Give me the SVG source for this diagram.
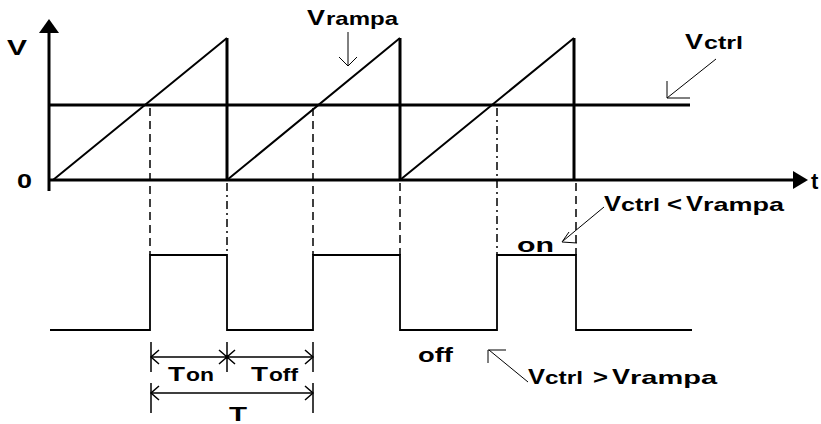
<svg xmlns="http://www.w3.org/2000/svg" width="821" height="424" viewBox="0 0 821 424">
<style>
.ax{stroke:#000;stroke-width:3;fill:none}
.rp{stroke:#000;stroke-width:2;fill:none}
.th{stroke:#000;stroke-width:3;fill:none}
.pl{stroke:#000;stroke-width:1.8;fill:none}
.ds{stroke:#000;stroke-width:1.5;fill:none;stroke-dasharray:8,5}
.dd{stroke:#000;stroke-width:1.5;fill:none;stroke-dasharray:8,4,2,4}
.ld{stroke:#000;stroke-width:1;fill:none}
.dm{stroke:#000;stroke-width:1.5;fill:none}
text{font-family:"Liberation Sans",Arial,sans-serif;font-weight:bold;fill:#000}
.big{font-size:22px}
.sub{font-size:19px}
.lbl{font-size:21px}
</style>
<rect width="821" height="424" fill="#fff"/>
<g id="axes">
<line class="ax" x1="49" y1="30" x2="49" y2="191"/>
<polygon points="49,19 39,33 59,33" fill="#000"/>
<line class="ax" x1="49" y1="180" x2="795" y2="180"/>
<polygon points="808,180 793,171 793,189" fill="#000"/>
<text class="big" x="7" y="55" font-size="24" textLength="20" lengthAdjust="spacingAndGlyphs">V</text>
<text class="lbl" x="17" y="188" font-size="22" textLength="15" lengthAdjust="spacingAndGlyphs">0</text>
<text class="big" x="811" y="189" font-size="24">t</text>
</g>
<g id="vctrl-line">
<line class="th" x1="49" y1="105" x2="690" y2="105"/>
</g>
<g id="ramp">
<path class="rp" d="M53,180 L227,38 M227,180 L400,38 M400,180 L574,38"/>
<path class="th" d="M227,38 V180 M400,38 V180 M574,38 V180"/>
</g>
<g id="pulse">
<path class="pl" d="M50,330 H150 V255 H227 V330 H313 V255 H400 V330 H497 V255 H576 V330 H692"/>
</g>
<g id="guides">
<line class="ds" x1="150" y1="108" x2="150" y2="255"/>
<line class="dd" x1="227" y1="183" x2="227" y2="255"/>
<line class="ds" x1="313" y1="108" x2="313" y2="255"/>
<line class="ds" x1="400" y1="183" x2="400" y2="255"/>
<line class="dd" x1="497" y1="108" x2="497" y2="255"/>
<line class="ds" x1="576" y1="183" x2="576" y2="255"/>
</g>
<g id="label-vrampa">
<text y="25"><tspan class="big" x="307" textLength="18" lengthAdjust="spacingAndGlyphs">V</tspan><tspan class="sub" x="326" textLength="72" lengthAdjust="spacingAndGlyphs">rampa</tspan></text>
<path class="ld" d="M348,32 V65 M339,57 L348,66 L357,57"/>
</g>
<g id="label-vctrl">
<text y="49"><tspan class="big" x="685" textLength="18" lengthAdjust="spacingAndGlyphs">V</tspan><tspan class="sub" x="704" textLength="39" lengthAdjust="spacingAndGlyphs">ctrl</tspan></text>
<path class="ld" d="M716,59 L667,98 M667,81 V98 H690"/>
</g>
<g id="label-on">
<text y="211"><tspan class="big" x="604" textLength="17" lengthAdjust="spacingAndGlyphs">V</tspan><tspan class="sub" x="621" textLength="39" lengthAdjust="spacingAndGlyphs">ctrl</tspan><tspan class="lbl" x="667" textLength="15" lengthAdjust="spacingAndGlyphs">&lt;</tspan><tspan class="big" x="686" textLength="17" lengthAdjust="spacingAndGlyphs">V</tspan><tspan class="sub" x="703" textLength="81" lengthAdjust="spacingAndGlyphs">rampa</tspan></text>
<path class="ld" d="M604,207 L563,241 M569,232 L562,242 L577,243"/>
<text class="lbl" x="517" y="252" font-size="24" textLength="37" lengthAdjust="spacingAndGlyphs">on</text>
</g>
<g id="label-off">
<text class="lbl" x="418" y="362" font-size="24" textLength="35" lengthAdjust="spacingAndGlyphs">off</text>
<path class="ld" d="M528,382 L489,350 M506,350 H488 V363"/>
<text y="384"><tspan class="big" x="528" textLength="17" lengthAdjust="spacingAndGlyphs">V</tspan><tspan class="sub" x="545" textLength="38" lengthAdjust="spacingAndGlyphs">ctrl</tspan><tspan class="lbl" x="593" textLength="15" lengthAdjust="spacingAndGlyphs">&gt;</tspan><tspan class="big" x="612" textLength="18" lengthAdjust="spacingAndGlyphs">V</tspan><tspan class="sub" x="630" textLength="87" lengthAdjust="spacingAndGlyphs">rampa</tspan></text>
</g>
<g id="dimensions">
<path class="dm" d="M151,342 V372 M227,342 V372 M313,342 V372 M151,357 H313"/>
<path class="dm" d="M159,350 L151,357 L159,364 M219,350 L227,357 L219,364 M235,350 L227,357 L235,364 M305,350 L313,357 L305,364"/>
<circle cx="227" cy="357" r="2" fill="#000"/>
<path class="dm" d="M151,383 V413 M313,383 V413 M151,393 H313"/>
<path class="dm" d="M159,386 L151,393 L159,400 M305,386 L313,393 L305,400"/>
<text y="381"><tspan class="lbl" x="168" textLength="17" lengthAdjust="spacingAndGlyphs">T</tspan><tspan class="sub" x="186" textLength="28" lengthAdjust="spacingAndGlyphs">on</tspan></text>
<text y="381"><tspan class="lbl" x="251" textLength="17" lengthAdjust="spacingAndGlyphs">T</tspan><tspan class="sub" x="269" textLength="29" lengthAdjust="spacingAndGlyphs">off</tspan></text>
<text class="lbl" x="229" y="421" font-size="21" textLength="18" lengthAdjust="spacingAndGlyphs">T</text>
</g>
</svg>
